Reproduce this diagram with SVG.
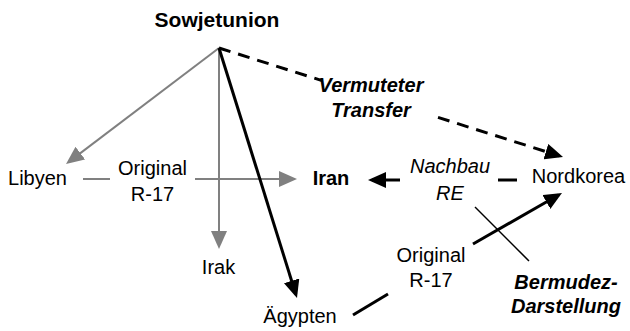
<svg xmlns="http://www.w3.org/2000/svg" width="630" height="331" viewBox="0 0 630 331">
<style>
text{font-family:"Liberation Sans",Arial,sans-serif;font-size:20px;fill:#000;text-anchor:middle}
.b{font-weight:bold}
.i{font-style:italic}
.bi{font-weight:bold;font-style:italic}
.g{stroke:#808080;stroke-width:2;fill:none}
.k{stroke:#000;stroke-width:3;fill:none}
.d{stroke:#000;stroke-width:3;fill:none;stroke-dasharray:12 8}
.t{stroke:#000;stroke-width:1.5;fill:none}
</style>
<defs>
<marker id="ag" markerUnits="userSpaceOnUse" markerWidth="18" markerHeight="16" viewBox="0 0 18 16" refX="14" refY="8" orient="auto"><path d="M0,0 L18,8 L0,16 z" fill="#808080"/></marker>
<marker id="ak" markerUnits="userSpaceOnUse" markerWidth="18" markerHeight="16" viewBox="0 0 18 16" refX="14" refY="8" orient="auto"><path d="M0,0 L18,8 L0,16 z" fill="#000"/></marker>
</defs>
<g id="connectors">
<line class="g" x1="219" y1="48" x2="69.2" y2="161.6" marker-end="url(#ag)"/>
<line class="g" x1="219" y1="48" x2="219" y2="245" marker-end="url(#ag)"/>
<line class="g" x1="83" y1="179" x2="110" y2="179"/>
<line class="g" x1="195" y1="179" x2="293" y2="179" marker-end="url(#ag)"/>
<line class="k" x1="219" y1="48" x2="295.8" y2="294.2" marker-end="url(#ak)"/>
<line class="d" x1="219" y1="48" x2="322" y2="80.6"/>
<line class="d" x1="438" y1="117.4" x2="559.2" y2="155.8" marker-end="url(#ak)"/>
<line class="k" x1="498" y1="180" x2="517" y2="180"/>
<line class="k" x1="400" y1="180" x2="372" y2="180" marker-end="url(#ak)"/>
<line class="k" x1="353" y1="315" x2="388" y2="294"/>
<line class="k" x1="473" y1="244" x2="558.5" y2="195" marker-end="url(#ak)"/>
<line class="t" x1="475" y1="207" x2="529" y2="261"/>
</g>
<g id="sowjetunion"><text class="b" x="217" y="27" style="font-size:21px">Sowjetunion</text></g>
<g id="libyen"><text x="37.5" y="185">Libyen</text></g>
<g id="irak"><text x="218.5" y="274">Irak</text></g>
<g id="iran"><text class="b" x="331" y="185">Iran</text></g>
<g id="nordkorea"><text x="578.5" y="183">Nordkorea</text></g>
<g id="aegypten"><text x="300" y="323">Ägypten</text></g>
<g id="label-vermuteter"><text class="bi" x="371" y="92">Vermuteter</text><text class="bi" x="371" y="117">Transfer</text></g>
<g id="label-original1"><text x="152.5" y="175">Original</text><text x="152.5" y="201">R-17</text></g>
<g id="label-nachbau"><text class="i" x="450" y="173">Nachbau</text><text class="i" x="450" y="200">RE</text></g>
<g id="label-original2"><text x="431" y="262">Original</text><text x="431" y="287">R-17</text></g>
<g id="label-bermudez"><text class="bi" x="566" y="289">Bermudez-</text><text class="bi" x="566" y="313">Darstellung</text></g>
</svg>
